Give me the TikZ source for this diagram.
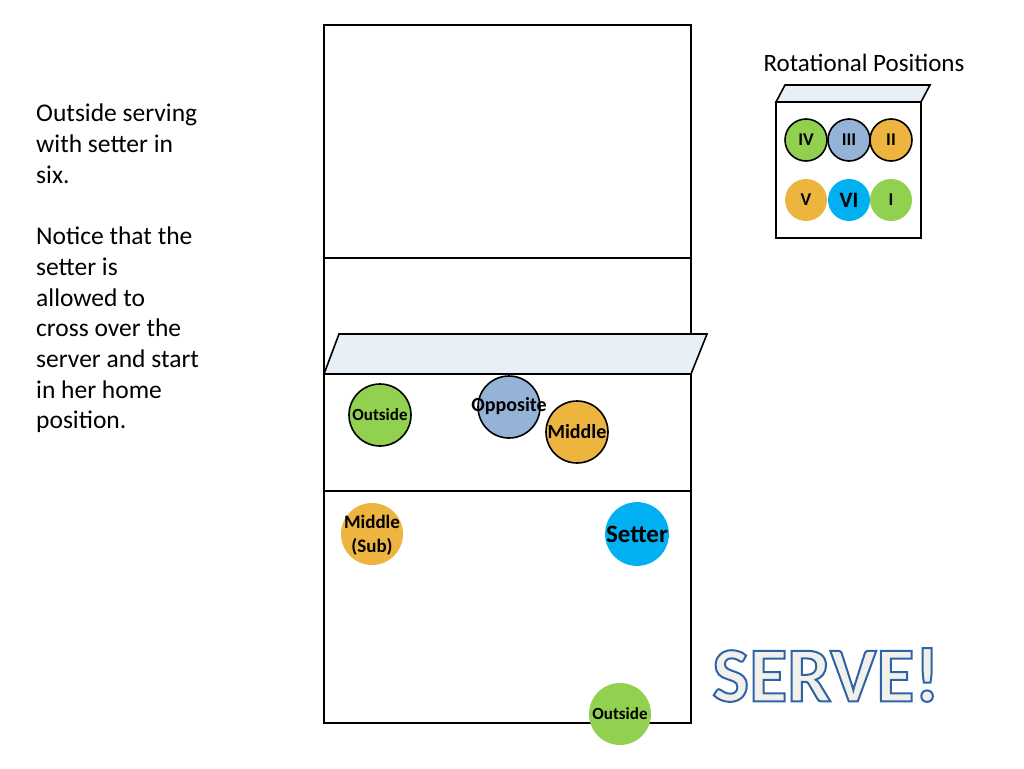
\documentclass[tikz,border=0pt]{standalone}
\usepackage{fontspec}
\setmainfont{Carlito}
\usetikzlibrary{positioning}
\definecolor{outsidegreen}{HTML}{92D050}
\definecolor{oppblue}{HTML}{95B3D7}
\definecolor{midorange}{HTML}{EDB540}
\definecolor{setterblue}{HTML}{00B0F0}
\definecolor{netfill}{HTML}{E9EFF6}
\definecolor{servefill}{HTML}{F2F0EB}
\newcommand{\outlined}[1]{{\color{servefill}\special{pdf:literal direct 2 Tr 2 w 0.18 0.39 0.66 RG}#1\special{pdf:literal direct 0 Tr}}}
\tikzset{
	court/.style  = {draw, line width=1.6pt},
	netline/.style = {draw, line width=2.6pt},
	player/.style = {circle, minimum size=62pt, inner sep=0pt, align=center,
		font=\fontsize{17}{19}\selectfont\bfseries},
	ringed/.style = {player, draw, line width=1.6pt},
	tag/.style    = {inner sep=0pt, align=center, font=\fontsize{20}{24}\selectfont\bfseries},
	rot/.style    = {circle, minimum size=42pt, inner sep=0pt,
		font=\fontsize{18}{20}\selectfont\bfseries},
	rotringed/.style = {rot, draw, line width=1.6pt},
}
\begin{document}
\begin{tikzpicture}[x=1pt, y=-1pt]
	\useasboundingbox (0,0) rectangle (1024,768);
	
	% court
	\draw[court] (324,25) rectangle (691,723);
	\draw[court] (324,258) -- (691,258);
	\draw[court] (324,491) -- (691,491);
	\draw[court, fill=netfill] (324,374) -- (339,334) -- (707,334) -- (691,374) -- cycle;
	\draw[netline] (324,374) -- (691,374);
	
	% players
	\node[ringed, fill=outsidegreen] (outside) at (380,415) {Outside};
	\node[ringed, fill=oppblue] (opposite) at (509,407) {};
	\node[tag] (opplabel) at (509,406) {Opposite};
	\node[ringed, fill=midorange] (middle) at (577,432) {};
	\node[tag] (midlabel) at (577,432) {Middle};
	\node[player, fill=midorange] (sub) at (372,534) {};
	\node[tag, font=\fontsize{19}{24}\selectfont\bfseries] (sublabel) at (372,535) {Middle\\(Sub)};
	\node[player, fill=setterblue, font=\fontsize{25}{28}\selectfont\bfseries] (setter) at (637,534) {Setter};
	\node[player, fill=outsidegreen] (server) at (620,714) {Outside};
	
	% rotational positions
	\node[font=\fontsize{25}{28}\selectfont, anchor=base] (rottitle) at (864,71) {Rotational Positions};
	\draw[court] (776,102) rectangle (921,238);
	\draw[court, fill=netfill] (776,102) -- (785,85) -- (930,85) -- (921,102) -- cycle;
	\node[rotringed, fill=outsidegreen] (iv) at (806,140) {IV};
	\node[rotringed, fill=oppblue] (iii) at (849,140) {III};
	\node[rotringed, fill=midorange] (ii) at (891,140) {II};
	\node[rot, fill=midorange] (v) at (806,200) {V};
	\node[rot, fill=setterblue, font=\fontsize{22}{24}\selectfont\bfseries] (vi) at (849,200) {VI};
	\node[rot, fill=outsidegreen] (i) at (891,200) {I};
	
	% notes
	\node[anchor=north west, align=left, inner sep=0pt,
		font=\fontsize{25.5}{30.7}\selectfont] (notes) at (36,104) {Outside serving\\with setter in\\six.\\[30.7pt]Notice that the\\setter is\\allowed to\\cross over the\\server and start\\in her home\\position.};
	
	% serve
	\node[font=\fontsize{78}{82}\selectfont\bfseries] (serve) at (826,675) {\outlined{SERVE!}};
\end{tikzpicture}
\end{document}
